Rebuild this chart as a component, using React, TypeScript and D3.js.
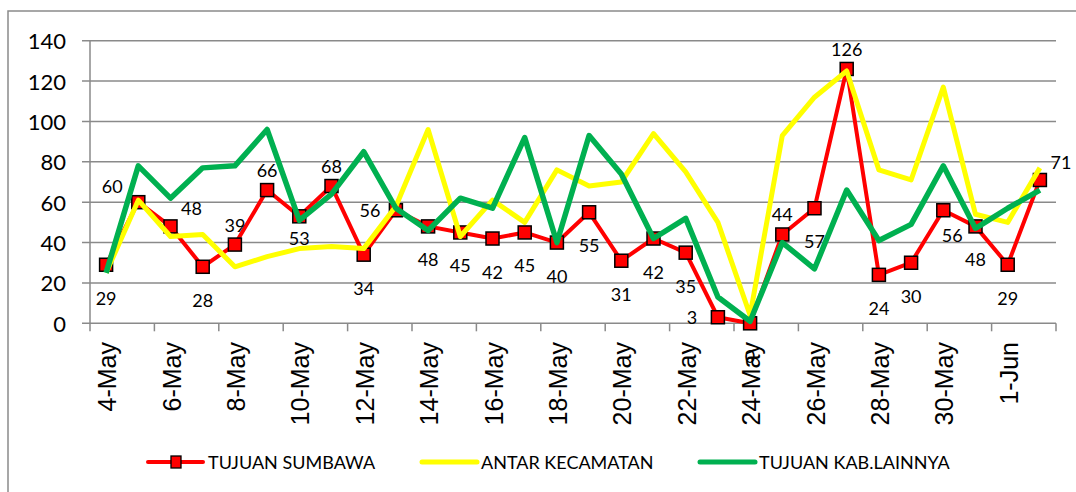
import React from "react";
import * as d3 from "d3";

const dates = [
  "4-May", "5-May", "6-May", "7-May", "8-May", "9-May", "10-May", "11-May", "12-May", "13-May",
  "14-May", "15-May", "16-May", "17-May", "18-May", "19-May", "20-May", "21-May", "22-May", "23-May",
  "24-May", "25-May", "26-May", "27-May", "28-May", "29-May", "30-May", "31-May", "1-Jun", "2-Jun",
];
const tujuanSumbawa = [29, 60, 48, 28, 39, 66, 53, 68, 34, 56, 48, 45, 42, 45, 40, 55, 31, 42, 35, 3, 0, 44, 57, 126, 24, 30, 56, 48, 29, 71];
const antarKecamatan = [25, 61, 43, 44, 28, 33, 37, 38, 37, 58, 96, 43, 61, 50, 76, 68, 70, 94, 75, 50, 4, 93, 112, 125, 76, 71, 117, 54, 50, 77];
const tujuanKabLainnya = [25, 78, 62, 77, 78, 96, 51, 64, 85, 57, 46, 62, 57, 92, 40, 93, 74, 42, 52, 13, 1, 40, 27, 66, 41, 49, 78, 47, 57, 66];
const labelPlacement = ["b", "tl", "tr", "b", "t", "t", "bs", "t", "b", "l", "b", "b", "b", "b", "b", "b", "b", "b", "b", "l", "b", "t", "b", "t", "b", "b", "br", "b", "b", "tr"];
const yTicks = [0, 20, 40, 60, 80, 100, 120, 140];
const seriesNames = ["TUJUAN SUMBAWA", "ANTAR KECAMATAN", "TUJUAN KAB.LAINNYA"];

const offsets: Record<string, [number, number]> = {
  b: [0, 33],
  bs: [0, 22],
  br: [9, 25],
  t: [0, -20],
  tl: [-26, -16],
  tr: [21, -18],
  l: [-26, 0],
};

export default function App() {
  const W = 1076, H = 492;
  const x = d3.scaleBand<string>().domain(dates).range([90, 1056]).padding(0);
  const y = d3.scaleLinear().domain([0, 140]).range([323.3, 40.7]);
  const cx = (i: number) => (x(dates[i]) as number) + x.bandwidth() / 2;
  const line = d3.line<number>().x((_, i) => cx(i)).y((v) => y(v));
  const grid = "#8a8a8a";
  const font = "Lato, 'Open Sans', sans-serif";

  const tickXs = d3.range(0, dates.length + 1, 2).map((i) => 90 + i * x.bandwidth());

  return (
    <svg width={W} height={H} style={{ position: "absolute", left: 0, top: 0, background: "#fff" }}>
      <rect x={8} y={11} width={1100} height={520} fill="#fff" stroke={grid} strokeWidth={1.5} />
      {yTicks.map((t) => (
        <g key={t}>
          <line x1={82} x2={1056} y1={y(t)} y2={y(t)} stroke={grid} strokeWidth={1.5} />
          <text x={66} y={y(t)} textAnchor="end" dominantBaseline="central" fontFamily={font} fontSize={22} fill="#000">
            {t}
          </text>
        </g>
      ))}
      <line x1={90} x2={90} y1={y(140)} y2={y(0)} stroke={grid} strokeWidth={1.5} />
      {tickXs.map((tx, k) => (
        <line key={k} x1={tx} x2={tx} y1={y(0)} y2={y(0) + 8} stroke={grid} strokeWidth={1.5} />
      ))}
      {dates.map((d, i) =>
        i % 2 === 0 ? (
          <text
            key={d}
            transform={`translate(${cx(i) + 10},${342}) rotate(-90)`}
            textAnchor="end"
            fontFamily="'Liberation Sans', Arial, sans-serif"
            fontSize={25}
            fill="#000"
          >
            {d}
          </text>
        ) : null
      )}
      <path d={line(tujuanSumbawa) || ""} fill="none" stroke="#ff0000" strokeWidth={4} strokeLinejoin="round" />
      {tujuanSumbawa.map((v, i) => (
        <rect key={i} x={cx(i) - 6.5} y={y(v) - 6.5} width={13} height={13} fill="#ff0000" stroke="#000" strokeWidth={1.5} />
      ))}
      <path d={line(antarKecamatan) || ""} fill="none" stroke="#ffff00" strokeWidth={5} strokeLinejoin="round" />
      <path d={line(tujuanKabLainnya) || ""} fill="none" stroke="#00b050" strokeWidth={5.5} strokeLinejoin="round" />
      {tujuanSumbawa.map((v, i) => {
        const [dx, dy] = offsets[labelPlacement[i]];
        return (
          <text key={i} x={cx(i) + dx} y={y(v) + dy} textAnchor="middle" dominantBaseline="central" fontFamily={font} fontSize={18} fill="#000">
            {v}
          </text>
        );
      })}
      <g>
        <line x1={148} x2={203} y1={462} y2={462} stroke="#ff0000" strokeWidth={4} strokeLinecap="round" />
        <rect x={171} y={456} width={10} height={12} fill="#ff0000" stroke="#000" strokeWidth={1.3} />
        <text x={208} y={462} dominantBaseline="central" fontFamily={font} fontSize={18} fill="#000">{seriesNames[0]}</text>
        <line x1={422} x2={477} y1={462} y2={462} stroke="#ffff00" strokeWidth={5} strokeLinecap="round" />
        <text x={481} y={462} dominantBaseline="central" fontFamily={font} fontSize={18} fill="#000">{seriesNames[1]}</text>
        <line x1={700} x2={755} y1={462} y2={462} stroke="#00b050" strokeWidth={5} strokeLinecap="round" />
        <text x={759} y={462} dominantBaseline="central" fontFamily={font} fontSize={18} fill="#000">{seriesNames[2]}</text>
      </g>
    </svg>
  );
}
